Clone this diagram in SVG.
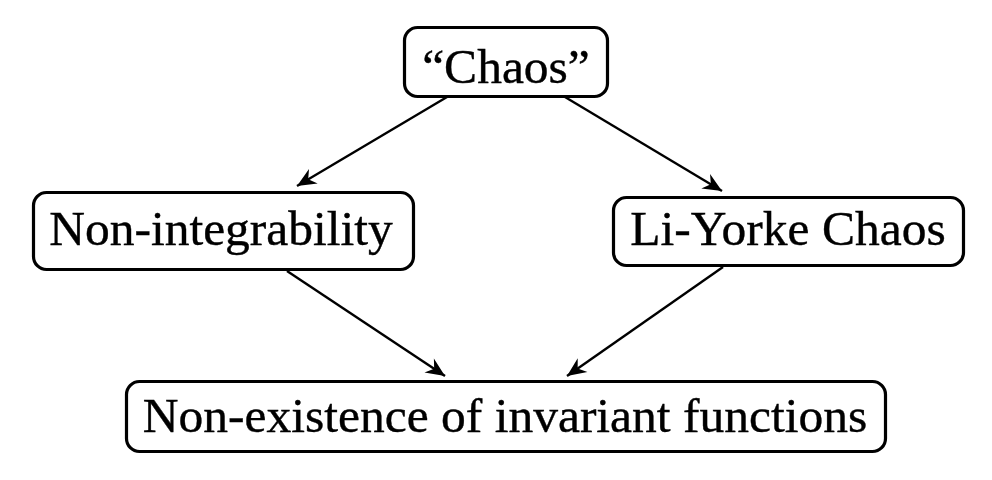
<svg xmlns="http://www.w3.org/2000/svg" width="992" height="480" viewBox="0 0 992 480">
<defs>
<marker id="ah" markerUnits="userSpaceOnUse" markerWidth="26" markerHeight="22" viewBox="-20 -11 26 22" refX="0" refY="0" orient="auto">
<path d="M0,0 L-19,-8.5 L-13,0 L-19,8.5 Z" fill="#000"/>
</marker>
<style>
.box{fill:#fff;stroke:#000;stroke-width:3.2}
.t{font-family:"Liberation Serif","Times New Roman",serif;font-size:49.5px;fill:#000;stroke:#000;stroke-width:0.4;text-anchor:middle}
.c{stroke:#000;stroke-width:2.4;fill:none;marker-end:url(#ah)}
</style>
</defs>
<rect width="992" height="480" fill="#fff"/>
<g id="connectors">
<line class="c" x1="447" y1="97" x2="297" y2="186"/>
<line class="c" x1="565" y1="97" x2="722" y2="191"/>
<line class="c" x1="287" y1="271" x2="445" y2="376"/>
<line class="c" x1="723" y1="267" x2="567" y2="376"/>
</g>
<g id="chaos">
<rect class="box" x="404.5" y="27.5" width="203" height="69" rx="13"/>
<text class="t" x="506" y="83">“Chaos”</text>
</g>
<g id="nonintegrability">
<rect class="box" x="33.5" y="192.5" width="380" height="77" rx="13"/>
<text class="t" x="221" y="245">Non-integrability</text>
</g>
<g id="liyorke">
<rect class="box" x="613.5" y="197.5" width="350" height="68" rx="13"/>
<text class="t" x="788" y="245">Li-Yorke Chaos</text>
</g>
<g id="nonexistence">
<rect class="box" x="126.5" y="381.5" width="759" height="70" rx="13"/>
<text class="t" x="505" y="432">Non-existence of invariant functions</text>
</g>
</svg>
